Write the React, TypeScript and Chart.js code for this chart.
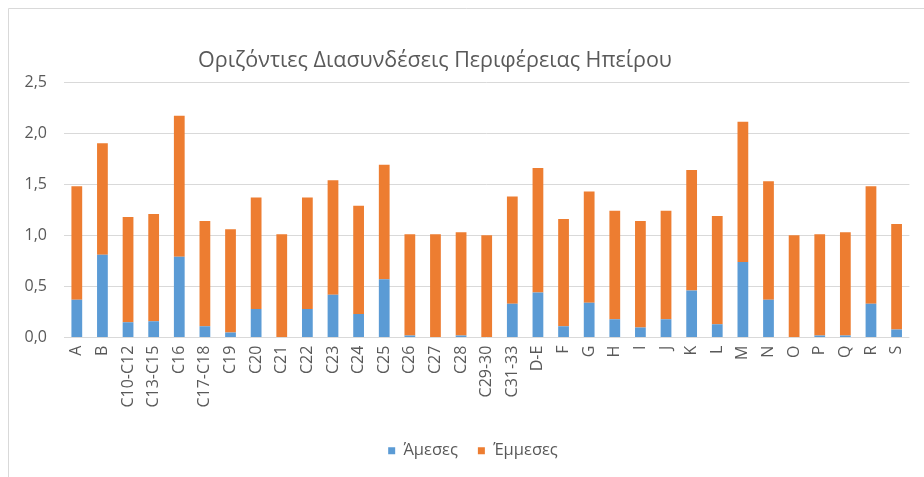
import React, { useEffect, useRef } from "react";
import { Chart, registerables } from "chart.js";

Chart.register(...registerables);

const TITLE = "Οριζόντιες Διασυνδέσεις Περιφέρειας Ηπείρου";

const categories = [
  "A", "B", "C10-C12", "C13-C15", "C16", "C17-C18", "C19", "C20", "C21", "C22",
  "C23", "C24", "C25", "C26", "C27", "C28", "C29-30", "C31-33", "D-E", "F",
  "G", "H", "I", "J", "K", "L", "M", "N", "O", "P", "Q", "R", "S",
];

// Άμεσες (direct)
const direct = [
  0.37, 0.81, 0.15, 0.16, 0.79, 0.11, 0.05, 0.28, 0.0, 0.28,
  0.42, 0.23, 0.57, 0.02, 0.0, 0.02, 0.0, 0.33, 0.44, 0.11,
  0.34, 0.18, 0.10, 0.18, 0.46, 0.13, 0.74, 0.37, 0.0, 0.02, 0.02, 0.33, 0.08,
];

// Έμμεσες (indirect)
const indirect = [
  1.11, 1.09, 1.03, 1.05, 1.38, 1.03, 1.01, 1.09, 1.01, 1.09,
  1.12, 1.06, 1.12, 0.99, 1.01, 1.01, 1.0, 1.05, 1.22, 1.05,
  1.09, 1.06, 1.04, 1.06, 1.18, 1.06, 1.37, 1.16, 1.0, 0.99, 1.01, 1.15, 1.03,
];

const seriesNames = ["Άμεσες", "Έμμεσες"];
const seriesColors = ["#5B9BD5", "#ED7D31"];

const yMin = 0;
const yMax = 2.5;
const yStep = 0.5;

const FONT = "'Open Sans', sans-serif";
const TEXT = "#595959";

const framePlugin = {
  id: "frame",
  afterLayout(chart: any) {
    if (chart.legend) {
      chart.legend.left += 14;
      chart.legend.right += 14;
    }
  },
  beforeDraw(chart: any) {
    const ctx = chart.ctx;
    ctx.save();
    ctx.fillStyle = "#ffffff";
    ctx.fillRect(0, 0, chart.width, chart.height);
    ctx.strokeStyle = "#d9d9d9";
    ctx.lineWidth = 1;
    ctx.beginPath();
    ctx.moveTo(8.5, chart.height);
    ctx.lineTo(8.5, 8.5);
    ctx.lineTo(chart.width, 8.5);
    ctx.stroke();
    ctx.restore();
  },
  afterDraw(chart: any) {
    const ctx = chart.ctx;
    ctx.save();
    ctx.fillStyle = TEXT;
    ctx.font = `21.5px ${FONT}`;
    ctx.textAlign = "center";
    ctx.textBaseline = "middle";
    ctx.fillText(TITLE, 435, 61);
    ctx.restore();
  },
};

export default function App() {
  const ref = useRef<HTMLCanvasElement | null>(null);

  useEffect(() => {
    document.body.style.margin = "0";
    const canvas = ref.current;
    if (!canvas) return;
    const chart = new Chart(canvas, {
      type: "bar",
      data: {
        labels: categories,
        datasets: [
          {
            label: seriesNames[0],
            data: direct,
            backgroundColor: seriesColors[0],
            categoryPercentage: 1,
            barPercentage: 0.42,
          },
          {
            label: seriesNames[1],
            data: indirect,
            backgroundColor: seriesColors[1],
            categoryPercentage: 1,
            barPercentage: 0.42,
          },
        ],
      },
      options: {
        animation: false,
        responsive: false,
        maintainAspectRatio: false,
        layout: { padding: { left: 8, right: 14, top: 82, bottom: 8 } },
        plugins: {
          title: { display: false },
          tooltip: { enabled: false },
          legend: {
            position: "bottom",
            labels: {
              color: TEXT,
              font: { family: FONT, size: 16.5 },
              boxWidth: 7,
              boxHeight: 7,
              padding: 20,
            },
          },
        },
        scales: {
          x: {
            stacked: true,
            grid: { display: false, drawTicks: false },
            border: { display: false },
            afterFit(scale: any) {
              scale.height += 7;
            },
            ticks: {
              color: TEXT,
              font: { family: FONT, size: 16 },
              minRotation: 90,
              maxRotation: 90,
              autoSkip: false,
              padding: 8,
            },
          },
          y: {
            stacked: true,
            min: yMin,
            max: yMax,
            afterFit(scale: any) {
              scale.width = 56;
            },
            grid: { color: "#d9d9d9", drawTicks: false },
            border: { display: false },
            ticks: {
              stepSize: yStep,
              color: TEXT,
              font: { family: FONT, size: 16 },
              padding: 17,
              callback: (v: any) => Number(v).toFixed(1).replace(".", ","),
            },
          },
        },
      },
      plugins: [framePlugin],
    });
    return () => chart.destroy();
  }, []);

  return (
    <div style={{ width: 924, height: 477 }}>
      <canvas ref={ref} width={924} height={477} style={{ display: "block" }} />
    </div>
  );
}
